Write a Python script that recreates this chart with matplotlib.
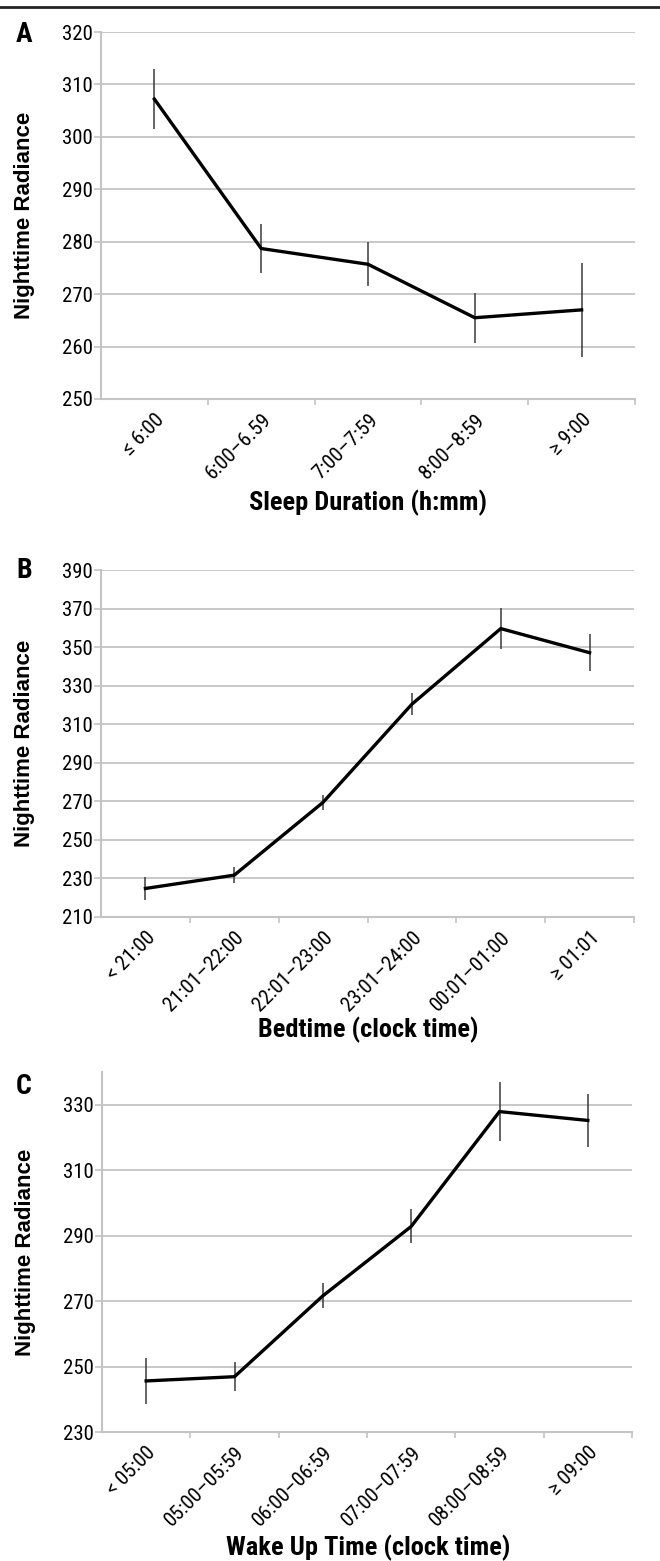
import numpy as np
import matplotlib
matplotlib.use("Agg")
import matplotlib.pyplot as plt
from matplotlib.lines import Line2D
from matplotlib.ticker import FixedLocator

# --- data ---
sleep_labels = ["≤ 6:00", "6:00–6.59", "7:00–7:59", "8:00–8:59", "≥ 9:00"]
sleep_mean = [307.2, 278.7, 275.7, 265.5, 267.0]
sleep_err = [5.7, 4.6, 4.2, 4.8, 8.9]

bed_labels = ["< 21:00", "21:01–22:00", "22:01–23:00", "23:01–24:00", "00:01–01:00", "≥ 01:01"]
bed_mean = [224.8, 231.7, 269.5, 320.4, 359.6, 347.1]
bed_err = [5.8, 4.2, 3.8, 5.6, 10.5, 9.6]

wake_labels = ["< 05:00", "05:00–05:59", "06:00–06:59", "07:00–07:59", "08:00–08:59", "≥ 09:00"]
wake_mean = [245.6, 246.9, 271.6, 292.8, 327.9, 325.2]
wake_err = [7.0, 4.5, 3.8, 5.2, 9.0, 8.2]

narrow = ["Roboto Condensed", "DejaVu Sans"]
regular = ["Liberation Sans", "DejaVu Sans"]
plt.rcParams["font.family"] = narrow

W, H = 660, 1561
fig = plt.figure(figsize=(W / 100, H / 100), dpi=100)

grid_c = "#c4c4c4"


def px_axes(left, top, right, bottom):
    return fig.add_axes([left / W, 1 - bottom / H, (right - left) / W, (bottom - top) / H])


def panel(ax, labels, mean, err, ylim, yticks, xlabel, xlabel_base, letter, letter_y):
    n = len(labels)
    x = np.arange(n)
    ax.set_xlim(-0.5, n - 0.5)
    ax.set_ylim(*ylim)
    ax.set_yticks(yticks)
    ax.yaxis.grid(True, color=grid_c, lw=1.3)
    ax.set_axisbelow(True)
    for s in ["top", "right"]:
        ax.spines[s].set_visible(False)
    for s in ["left", "bottom"]:
        ax.spines[s].set_color(grid_c)
        ax.spines[s].set_linewidth(1.5)
    ax.tick_params(axis="y", length=5, width=1.2, color=grid_c, labelsize=15, pad=1)
    ax.set_xticks(x)
    ax.set_xticklabels(labels, rotation=45, ha="right", rotation_mode="anchor", fontsize=15)
    ax.tick_params(axis="x", which="major", length=0, pad=8)
    ax.xaxis.set_minor_locator(FixedLocator(np.arange(0.5, n, 1.0)))
    ax.tick_params(axis="x", which="minor", length=4, width=1.2, color=grid_c)

    ax.errorbar(x, mean, yerr=err, fmt="none", ecolor="#3a3a3a", elinewidth=1.1, capsize=0)
    ax.plot(x, mean, color="black", lw=2.4, solid_joinstyle="miter")

    ax.set_ylabel("Nighttime Radiance", fontsize=16, fontweight="bold", family=regular)
    ax.yaxis.set_label_coords(-0.124, 0.5)

    fig.text(368 / W, 1 - xlabel_base / H, xlabel, fontsize=19, fontweight="bold",
             ha="center", va="baseline")
    fig.text(24 / W, 1 - letter_y / H, letter, fontsize=20, fontweight="bold",
             ha="center", va="center")


axA = px_axes(101, 32, 635, 399)
panel(axA, sleep_labels, sleep_mean, sleep_err, (250, 320), np.arange(250, 321, 10),
      "Sleep Duration (h:mm)", 510, "A", 35)

axB = px_axes(101, 570, 634, 917)
panel(axB, bed_labels, bed_mean, bed_err, (210, 390), np.arange(210, 391, 20),
      "Bedtime (clock time)", 1037, "B", 570)

axC = px_axes(102, 1072, 632, 1432)
panel(axC, wake_labels, wake_mean, wake_err, (230, 340), np.arange(230, 331, 20),
      "Wake Up Time (clock time)", 1555, "C", 1087)

# rule across the top
fig.add_artist(Line2D([0, 1], [1 - 7 / H, 1 - 7 / H], transform=fig.transFigure,
                      color="#222222", lw=2))

fig.savefig("out.png", dpi=100)
